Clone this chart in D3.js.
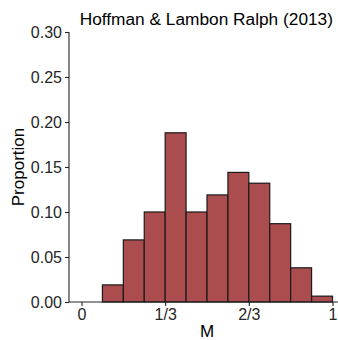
<!DOCTYPE html>
<html><head><meta charset="utf-8">
<script src="https://cdn.jsdelivr.net/npm/d3@7"></script>
<style>html,body{margin:0;padding:0;background:#fff;}</style>
</head><body>
<script>
const binStarts = [1/12, 2/12, 3/12, 4/12, 5/12, 6/12, 7/12, 8/12, 9/12, 10/12, 11/12];
const binWidth = 1/12;
const proportions = [0.019, 0.069, 0.100, 0.188, 0.100, 0.119, 0.144, 0.132, 0.087, 0.038, 0.0065];
const xTicks = [0, 1/3, 2/3, 1];
const xTickLabels = ["0", "1/3", "2/3", "1"];
const yTicks = [0, 0.05, 0.10, 0.15, 0.20, 0.25, 0.30];
const title = "Hoffman & Lambon Ralph (2013)";

const W = 338, H = 340;
const svg = d3.select("body").append("svg").attr("width", W).attr("height", H)
  .style("font-family", "Liberation Sans, Arial, sans-serif");

const x = d3.scaleLinear().domain([0, 1]).range([81.5, 332.5]);
const y = d3.scaleLinear().domain([0, 0.30]).range([302, 32]);
const axisX0 = 69;

// bars
svg.append("g").selectAll("rect").data(binStarts).join("rect")
  .attr("x", (d) => x(d))
  .attr("width", x(binWidth) - x(0))
  .attr("y", (d, i) => y(proportions[i]))
  .attr("height", (d, i) => y(0) - y(proportions[i]))
  .attr("fill", "#AB4D4E")
  .attr("stroke", "#1a1a1a")
  .attr("stroke-width", 1.2);

// y axis
const yAxis = svg.append("g").attr("transform", `translate(${axisX0},0)`)
  .call(d3.axisLeft(y).tickValues(yTicks).tickFormat(d3.format(".2f")).tickSize(4).tickPadding(3));
yAxis.select(".domain").attr("stroke", "#222").attr("stroke-width", 1.1).attr("d", `M0,${y(0.30)}V${y(0)}`);
yAxis.selectAll(".tick line").attr("stroke", "#222").attr("stroke-width", 1.1);
yAxis.selectAll(".tick text").attr("font-size", 16).attr("fill", "#262626").attr("font-family", "Liberation Sans, Arial, sans-serif");

// x axis
const xAxis = svg.append("g").attr("transform", `translate(0,${y(0)})`)
  .call(d3.axisBottom(x).tickValues(xTicks).tickFormat((d, i) => xTickLabels[i]).tickSize(4).tickPadding(3));
xAxis.select(".domain").attr("stroke", "#222").attr("stroke-width", 1.1).attr("d", `M${axisX0},0H${W}`);
xAxis.selectAll(".tick line").attr("stroke", "#222").attr("stroke-width", 1.1);
xAxis.selectAll(".tick text").attr("font-size", 16).attr("fill", "#262626").attr("font-family", "Liberation Sans, Arial, sans-serif");

// labels
svg.append("text").attr("x", 207).attr("y", 337).attr("text-anchor", "middle")
  .attr("font-size", 17).attr("fill", "#000").text("M");
svg.append("text").attr("transform", "translate(24,167) rotate(-90)").attr("text-anchor", "middle")
  .attr("font-size", 17).attr("fill", "#000").text("Proportion");
svg.append("text").attr("x", 333).attr("y", 25).attr("text-anchor", "end")
  .attr("font-size", 17.3).attr("fill", "#000").text(title);
</script>
</body></html>
